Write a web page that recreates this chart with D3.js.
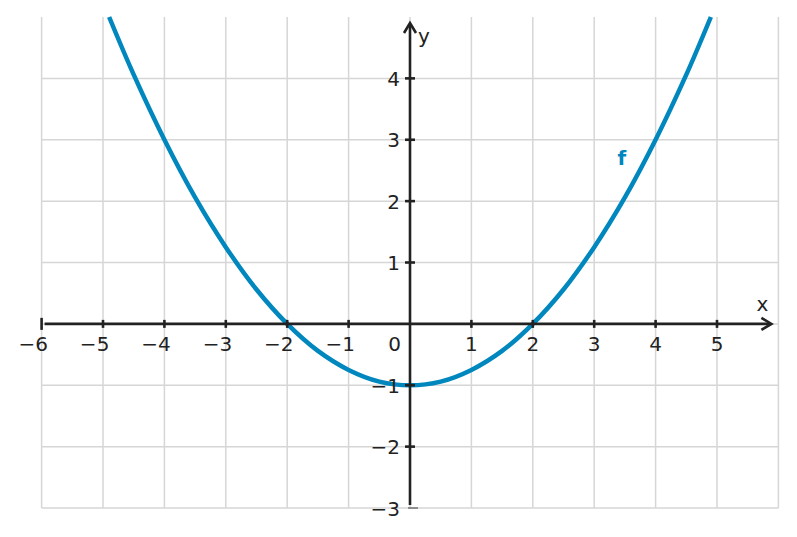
<!DOCTYPE html>
<html><head><meta charset="utf-8">
<script src="https://cdn.jsdelivr.net/npm/d3@7"></script>
<style>body{margin:0;background:#fff}svg{display:block}text{font-family:"DejaVu Sans",sans-serif}</style>
</head><body><svg id="c" width="797" height="537"></svg>
<script>
const xTicks = [-6,-5,-4,-3,-2,-1,1,2,3,4,5];
const yTicks = [-3,-2,-1,1,2,3,4];
const gridX = [-6,-5,-4,-3,-2,-1,0,1,2,3,4,5,6];
const gridY = [-3,-2,-1,0,1,2,3,4];
const curveX = [-4.9,-4.5,-4,-3.5,-3,-2.5,-2,-1.5,-1,-0.5,0,0.5,1,1.5,2,2.5,3,3.5,4,4.5,4.9];
const curveY = [5.0,4.06,3.0,2.06,1.25,0.56,0.0,-0.44,-0.75,-0.94,-1.0,-0.94,-0.75,-0.44,0.0,0.56,1.25,2.06,3.0,4.06,5.0];
const funcLabel = "f";

const svg = d3.select("#c");
const x = d3.scaleLinear().domain([-6,6]).range([41.6,778.4]);
const y = d3.scaleLinear().domain([-3,5]).range([508,17]);
const ink = "#222", gridC = "#d6d6d6", blue = "#0087be";
const FS = 20;

const g = svg.append("g");
g.selectAll(".gx").data(gridX).join("line").attr("x1",d=>x(d)).attr("x2",d=>x(d))
 .attr("y1",y(5)).attr("y2",y(-3)).attr("stroke",gridC).attr("stroke-width",1.5);
g.selectAll(".gy").data(gridY).join("line").attr("y1",d=>y(d)).attr("y2",d=>y(d))
 .attr("x1",x(-6)).attr("x2",x(6)).attr("stroke",gridC).attr("stroke-width",1.5);

// curve
const pts = curveX.map((v,i)=>[v,curveY[i]]);
svg.append("path").datum(pts).attr("fill","none").attr("stroke",blue).attr("stroke-width",4.5)
 .attr("d", d3.line().x(d=>x(d[0])).y(d=>y(d[1])).curve(d3.curveCatmullRom.alpha(0.5)));

// axes
const x0 = x(0), y0 = y(0);
svg.append("line").attr("x1",x(-6)+3).attr("x2",x(6)-8).attr("y1",y0).attr("y2",y0).attr("stroke",ink).attr("stroke-width",2.6);
svg.append("path").attr("d",`M${x(6)-17},${y0-6}L${x(6)-7},${y0}L${x(6)-17},${y0+6}`).attr("fill","none").attr("stroke",ink).attr("stroke-width",2.6);
svg.append("line").attr("x1",x0).attr("x2",x0).attr("y1",y(-3)-3).attr("y2",y(5)+7).attr("stroke",ink).attr("stroke-width",2.6);
svg.append("path").attr("d",`M${x0-6},${y(5)+16}L${x0},${y(5)+6}L${x0+6},${y(5)+16}`).attr("fill","none").attr("stroke",ink).attr("stroke-width",2.6);

// x ticks
svg.selectAll(".xt").data(xTicks).join("line").attr("x1",d=>x(d)).attr("x2",d=>x(d))
 .attr("y1",d=>d===-6?y0-6:y0-4).attr("y2",d=>d===-6?y0+6:y0+4).attr("stroke",ink).attr("stroke-width",2.6);
const fmt = d => d<0 ? "\u2212"+Math.abs(d) : String(d);
xTicks.forEach(d=>{
  const t = svg.append("text").attr("x",x(d)).attr("y",y0+27).attr("text-anchor","middle")
    .attr("font-size",FS).attr("fill",ink).text(String(Math.abs(d)));
  if (d<0) {
    const w = t.node().getComputedTextLength();
    svg.append("text").attr("x",x(d)-w/2).attr("y",y0+27).attr("text-anchor","end")
      .attr("font-size",FS).attr("fill",ink).text("\u2212");
  }
});
svg.append("text").attr("x",x0-9).attr("y",y0+27).attr("text-anchor","end").attr("font-size",FS).attr("fill",ink).text("0");

// y ticks
svg.selectAll(".yt").data(yTicks).join("line").attr("y1",d=>y(d)).attr("y2",d=>y(d))
 .attr("x1",d=>d===-3?x0-2:x0-5).attr("x2",d=>d===-3?x0+8:x0+5).attr("stroke",d=>d===-3?"#555":ink).attr("stroke-width",d=>d===-3?1.2:2.6);
svg.selectAll(".yl").data(yTicks).join("text").attr("x",x0-10).attr("y",d=>y(d)+7.5)
 .attr("text-anchor","end").attr("font-size",FS).attr("fill",ink).text(fmt);

svg.append("text").attr("x",x0+8).attr("y",y(5)+26).attr("font-size",20).attr("fill",ink).text("y");
svg.append("text").attr("x",x(6)-22).attr("y",y0-13).attr("font-size",20).attr("fill",ink).text("x");
svg.append("text").attr("x",x(3.45)).attr("y",y(2.6)+1).attr("text-anchor","middle").attr("font-size",20)
 .attr("font-weight","bold").attr("fill",blue).text(funcLabel);
</script></body></html>
